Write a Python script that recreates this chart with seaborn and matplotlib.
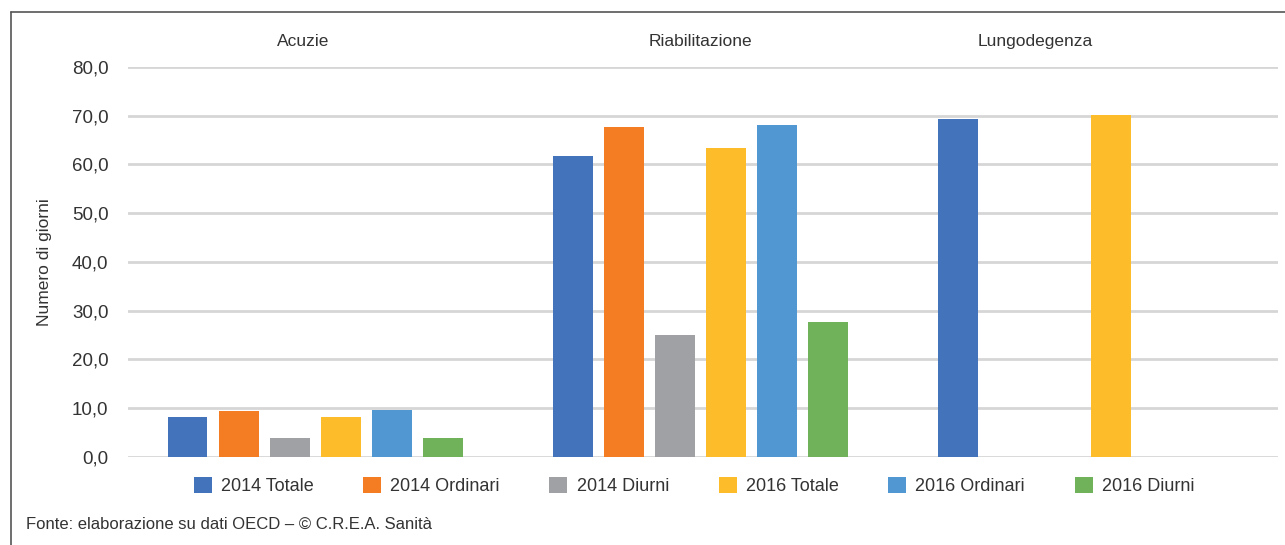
import numpy as np
import pandas as pd
import matplotlib
matplotlib.use("Agg")
import matplotlib.pyplot as plt
import seaborn as sns
from matplotlib.ticker import FuncFormatter
from matplotlib.patches import Patch

categories = ["Acuzie", "Riabilitazione", "Lungodegenza"]
series = ["2014 Totale", "2014 Ordinari", "2014 Diurni",
          "2016 Totale", "2016 Ordinari", "2016 Diurni"]
v_2014_totale = [8.1, 61.8, 69.4]
v_2014_ordinari = [9.4, 67.6, np.nan]
v_2014_diurni = [3.8, 25.1, np.nan]
v_2016_totale = [8.1, 63.3, 70.1]
v_2016_ordinari = [9.7, 68.2, np.nan]
v_2016_diurni = [3.8, 27.6, np.nan]
colors = ["#4373BA", "#F47C22", "#A0A1A4", "#FDBD2A", "#5198D2", "#70B259"]

values = [v_2014_totale, v_2014_ordinari, v_2014_diurni,
          v_2016_totale, v_2016_ordinari, v_2016_diurni]
rows = []
for s, vals in zip(series, values):
    for c, v in zip(categories, vals):
        rows.append({"Categoria": c, "Serie": s, "Giorni": v})
df = pd.DataFrame(rows)

sns.set_style("white")
plt.rcParams["font.family"] = ["Liberation Sans", "DejaVu Sans"]

fig = plt.figure(figsize=(12.85, 5.45), dpi=100)
ax = fig.add_axes([0.0996, 0.1615, 0.895, 0.7156])

sns.barplot(data=df.dropna(), x="Categoria", y="Giorni", hue="Serie",
            order=categories, hue_order=series, palette=colors,
            width=0.795, gap=0.22, ax=ax, legend=False, saturation=1,
            linewidth=0)

ax.set_xlim(-0.486, 2.5)
ax.set_ylim(0, 80)
ax.set_yticks(np.arange(0, 81, 10))
ax.yaxis.set_major_formatter(FuncFormatter(lambda v, p: f"{v:.1f}".replace(".", ",")))
ax.grid(axis="y", color="#D6D6D6", linewidth=2)
ax.set_axisbelow(True)
for sp in ax.spines.values():
    sp.set_visible(False)
ax.tick_params(axis="y", length=0, labelsize=13.5, colors="#333333", pad=14)
ax.set_ylabel("Numero di giorni", fontsize=12.5, color="#333333", labelpad=14)
ax.set_xlabel("")

# category labels on top
ax.xaxis.tick_top()
label_shift = [-0.03, 0.0, -0.13]
ax.set_xticks([i + d for i, d in enumerate(label_shift)])
ax.set_xticklabels(categories)
ax.tick_params(axis="x", length=0, labelsize=12.5, colors="#333333", pad=13)

handles = [Patch(facecolor=c, edgecolor="none", label=s) for s, c in zip(series, colors)]
fig.legend(handles=handles, loc="center", bbox_to_anchor=(0.54, 0.108), ncol=6,
           frameon=False, fontsize=13, handlelength=1.0, handleheight=1.0,
           handletextpad=0.5, columnspacing=2.75, labelcolor="#333333")

fig.text(0.02, 0.038, "Fonte: elaborazione su dati OECD – © C.R.E.A. Sanità",
         fontsize=12, color="#333333", ha="left", va="center")

# outer frame (left and top edges)
fig.add_artist(plt.Line2D([0.0085, 0.0085], [0, 0.978], color="#555555", linewidth=1.2))
fig.add_artist(plt.Line2D([0.0085, 1.0], [0.978, 0.978], color="#555555", linewidth=1.2))

fig.savefig("out.png", dpi=100)
